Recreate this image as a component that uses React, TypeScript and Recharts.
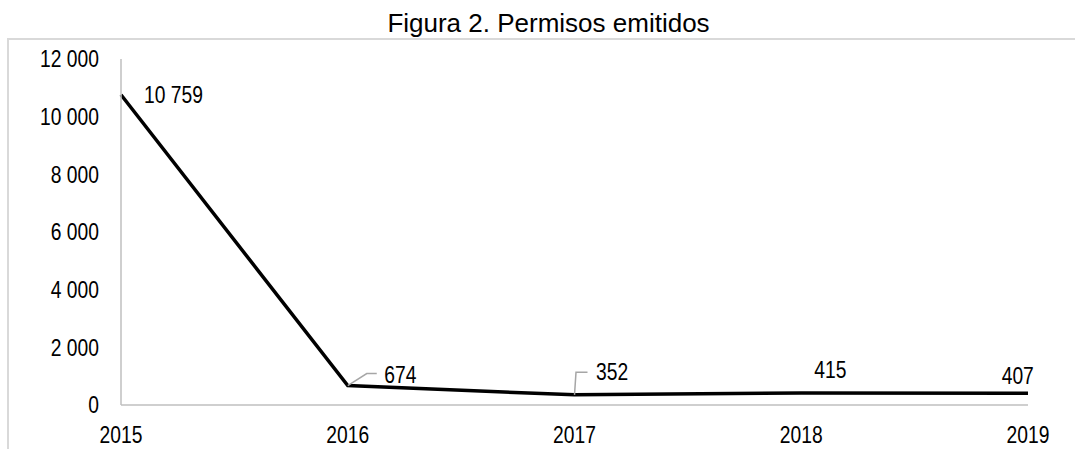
import React from 'react'
import { LineChart, Line, XAxis, YAxis, LabelList } from 'recharts'

const years = [2015, 2016, 2017, 2018, 2019]
const permisos = [10759, 674, 352, 415, 407]
const yTicks = [0, 2000, 4000, 6000, 8000, 10000, 12000]

const data = years.map((y, i) => ({ year: y, value: permisos[i] }))

const FONT = "'Liberation Sans', Arial, sans-serif"
const SQUEEZE = 0.82 // Arial Narrow look
const FS = 23.5
const fmt = (v: number) => String(v).replace(/\B(?=(\d{3})+(?!\d))/g, ' ')

const NarrowText = ({ x, y, anchor, dy, children }: any) => (
  <text transform={`translate(${x},${y}) scale(${SQUEEZE},1)`} textAnchor={anchor} dy={dy}
    fontFamily={FONT} fontSize={FS} fill="#000">
    {children}
  </text>
)

const YTick = (props: any) => (
  <NarrowText x={props.x} y={props.y} anchor="end" dy="0.36em">{fmt(props.payload.value)}</NarrowText>
)
const XTick = (props: any) => (
  <NarrowText x={props.x} y={props.y} anchor="middle" dy="0.71em">{props.payload.value}</NarrowText>
)

// label placement relative to each point (hand-moved labels in the original)
const labelPos = [
  { dx: 23, dy: 0, leader: null },
  { dx: 36.5, dy: -11, leader: [[19, -12], [29, -12]] },
  { dx: 21.5, dy: -23, leader: [[1.5, -22.5], [13, -22.5]] },
  { dx: 13, dy: -24, leader: null },
  { dx: -26.3, dy: -18, leader: null },
]

const PointLabel = (props: any) => {
  const { x, y, value, index } = props
  const p = labelPos[index]
  return (
    <g>
      {p.leader && (
        <polyline
          points={`${x},${y} ${p.leader.map((q: number[]) => `${x + q[0]},${y + q[1]}`).join(' ')}`}
          fill="none" stroke="#a6a6a6" strokeWidth={1.5}
        />
      )}
      <NarrowText x={x + p.dx} y={y + p.dy} anchor="start" dy="0.36em">{fmt(value)}</NarrowText>
    </g>
  )
}

export default function App() {
  return (
    <div style={{ position: 'fixed', left: 0, top: 0, width: 1075, height: 449, overflow: 'hidden', background: '#fff' }}>
      <div style={{
        position: 'absolute', left: 7, top: 38, width: 1200, height: 600,
        border: '2px solid #d9d9d9', boxSizing: 'border-box'
      }} />
      <div style={{
        position: 'absolute', left: 0, top: 9.5, width: 1097, textAlign: 'center',
        fontFamily: FONT, fontSize: '26px', lineHeight: '26px', color: '#000'
      }}>
        Figura 2. Permisos emitidos
      </div>
      <div style={{ position: 'absolute', left: 0, top: 0 }}>
        <LineChart width={1075} height={449} data={data}
          margin={{ top: 59, right: 47, bottom: 0, left: 0 }}>
          <XAxis dataKey="year" type="number" domain={[2015, 2019]} ticks={years}
            height={44} tickLine={false} tickSize={0} tickMargin={21}
            axisLine={{ stroke: '#bfbfbf', strokeWidth: 1.5 }}
            tick={XTick} />
          <YAxis domain={[0, 12000]} ticks={yTicks} width={121}
            tickLine={false} tickSize={0} tickMargin={22}
            axisLine={{ stroke: '#bfbfbf', strokeWidth: 1.5 }}
            tick={YTick} />
          <Line dataKey="value" type="linear" stroke="#000" strokeWidth={3.5}
            dot={false} isAnimationActive={false}>
            <LabelList dataKey="value" content={PointLabel} />
          </Line>
        </LineChart>
      </div>
    </div>
  )
}
